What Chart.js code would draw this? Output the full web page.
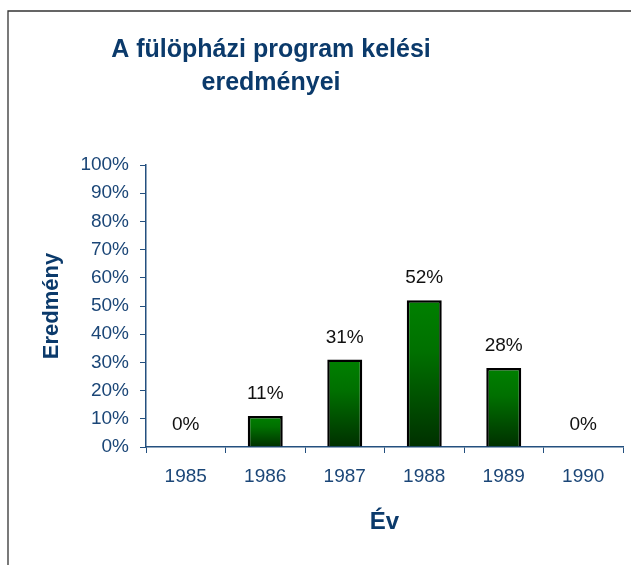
<!DOCTYPE html>
<html>
<head>
<meta charset="utf-8">
<script src="https://cdn.jsdelivr.net/npm/chart.js@4.4.1/dist/chart.umd.min.js"></script>
<style>
  html, body { margin: 0; padding: 0; background: #fff; }
  #wrap { width: 631px; height: 565px; position: relative; }
</style>
</head>
<body>
<div id="wrap"><canvas id="kelesChart" width="631" height="565"></canvas></div>
<script>
// adatok
var evek      = ['1985', '1986', '1987', '1988', '1989', '1990'];
var eredmeny  = [0, 11, 31, 52, 28, 0];
var cimSorok  = ['A fülöpházi program kelési', 'eredményei'];
var xCim      = 'Év';
var yCim      = 'Eredmény';

var KEK_SOTET = '#0b3a6b';
var KEK_TICK  = '#1b4677';
var KEK_TENGELY = '#24507f';

// gradient for each bar, top bright green -> bottom dark green
function barGradient(context){
  var chart = context.chart;
  var yScale = chart.scales.y;
  if (!chart.chartArea || !yScale) return '#006000';
  var v = context.raw || 0;
  var top = yScale.getPixelForValue(v);
  var bottom = yScale.getPixelForValue(0);
  if (bottom - top < 1) top = bottom - 1;
  var g = chart.ctx.createLinearGradient(0, top, 0, bottom);
  g.addColorStop(0, '#008000');
  g.addColorStop(0.35, '#007000');
  g.addColorStop(1, '#003000');
  return g;
}

// frame + title + value labels
var rajzPlugin = {
  id: 'rajzPlugin',
  beforeDraw: function(chart){
    var ctx = chart.ctx;
    ctx.save();
    ctx.strokeStyle = '#333333';
    ctx.lineWidth = 1.3;
    ctx.beginPath();
    ctx.moveTo(8, 565);
    ctx.lineTo(8, 11);
    ctx.lineTo(631, 11);
    ctx.stroke();
    ctx.restore();
  },
  afterDraw: function(chart){
    var ctx = chart.ctx;
    ctx.save();
    ctx.fillStyle = KEK_SOTET;
    ctx.font = 'bold 25px "Liberation Sans", Arial, sans-serif';
    ctx.textAlign = 'center';
    ctx.textBaseline = 'alphabetic';
    ctx.fillText(cimSorok[0], 271, 57);
    ctx.fillText(cimSorok[1], 271, 90);

    // value labels above bars
    ctx.fillStyle = '#111111';
    ctx.font = '19px "Liberation Sans", Arial, sans-serif';
    ctx.textBaseline = 'alphabetic';
    var meta = chart.getDatasetMeta(0);
    meta.data.forEach(function(bar, i){
      ctx.fillText(eredmeny[i] + '%', bar.x, bar.y - 17);
    });
    ctx.restore();
  }
};

const ctx = document.getElementById('kelesChart').getContext('2d');
var kelesChart = new Chart(ctx, {
  type: 'bar',
  data: {
    labels: evek,
    datasets: [{
      label: 'Eredmény',
      data: eredmeny,
      backgroundColor: barGradient,
      borderColor: '#000000',
      borderWidth: 2.5,
      barPercentage: 0.44,
      categoryPercentage: 1.0
    }]
  },
  options: {
    responsive: false,
    animation: false,
    devicePixelRatio: 1,
    layout: { padding: { left: 35, right: 8, top: 165, bottom: 24 } },
    plugins: {
      legend: { display: false },
      title: { display: false },
      tooltip: { enabled: false }
    },
    scales: {
      x: {
        grid: { drawOnChartArea: false, color: KEK_TENGELY, tickLength: 6, offset: true },
        border: { color: KEK_TENGELY, width: 1.5 },
        ticks: { color: KEK_TICK, font: { family: '"Liberation Sans", Arial, sans-serif', size: 19 }, padding: 12, maxRotation: 0 },
        title: { display: true, text: xCim, color: KEK_SOTET, font: { family: '"Liberation Sans", Arial, sans-serif', size: 24, weight: 'bold' }, padding: { top: 4, bottom: 4 } },
        afterFit: function(scale){ scale.height = 565 - 447 - 24; }
      },
      y: {
        min: 0,
        max: 100,
        grid: { drawOnChartArea: false, color: KEK_TENGELY, tickLength: 6 },
        border: { color: KEK_TENGELY, width: 1.5 },
        ticks: {
          stepSize: 10,
          color: KEK_TICK,
          font: { family: '"Liberation Sans", Arial, sans-serif', size: 19 },
          padding: 11,
          callback: function(v){ return v + '%'; }
        },
        title: { display: true, text: yCim, color: KEK_SOTET, font: { family: '"Liberation Sans", Arial, sans-serif', size: 22, weight: 'bold' }, padding: { top: 4, bottom: 4 } },
        afterFit: function(scale){ scale.width = 146 - 35; }
      }
    }
  },
  plugins: [rajzPlugin]
});
</script>
</body>
</html>
